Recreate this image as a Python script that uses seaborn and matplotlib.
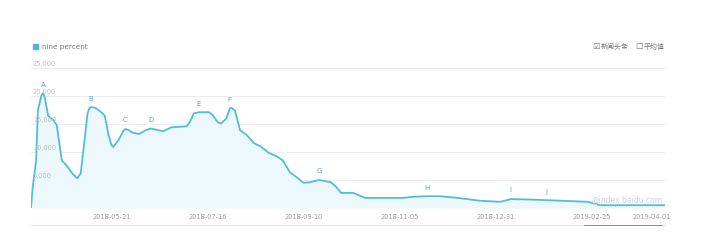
import matplotlib
matplotlib.use("Agg")
import matplotlib.pyplot as plt
import matplotlib.dates as mdates
from matplotlib.lines import Line2D
import seaborn as sns
import pandas as pd

# ---- data ----
dates = ["2018-04-04", "2018-04-05", "2018-04-07", "2018-04-08", "2018-04-10", "2018-04-11",
         "2018-04-12", "2018-04-14", "2018-04-17", "2018-04-19", "2018-04-20", "2018-04-22",
         "2018-04-25", "2018-04-28", "2018-05-01", "2018-05-03", "2018-05-05", "2018-05-07",
         "2018-05-08", "2018-05-09", "2018-05-10", "2018-05-12", "2018-05-15", "2018-05-17",
         "2018-05-18", "2018-05-19", "2018-05-21", "2018-05-22", "2018-05-25", "2018-05-28",
         "2018-05-29", "2018-05-31", "2018-06-02", "2018-06-06", "2018-06-10", "2018-06-13",
         "2018-06-20", "2018-06-25", "2018-07-04", "2018-07-06", "2018-07-08", "2018-07-11",
         "2018-07-17", "2018-07-19", "2018-07-22", "2018-07-24", "2018-07-27", "2018-07-29",
         "2018-07-30", "2018-08-01", "2018-08-04", "2018-08-08", "2018-08-12", "2018-08-16",
         "2018-08-21", "2018-08-25", "2018-08-29", "2018-09-02", "2018-09-06", "2018-09-10",
         "2018-09-14", "2018-09-19", "2018-09-26", "2018-09-29", "2018-10-02", "2018-10-09",
         "2018-10-16", "2018-11-07", "2018-11-13", "2018-11-21", "2018-11-29", "2018-12-09",
         "2018-12-22", "2019-01-03", "2019-01-09", "2019-01-21", "2019-01-30", "2019-02-23",
         "2019-03-02", "2019-04-09"]
values = [0, 3800, 8500, 17400, 20000, 20500,
          19800, 16500, 15700, 14800, 12700, 8500,
          7500, 6200, 5300, 6200, 11500, 16900,
          17800, 18000, 18000, 17800, 17100, 16500,
          15100, 13300, 11200, 10900, 12100, 13800,
          14100, 13900, 13500, 13200, 13900, 14200,
          13700, 14400, 14600, 15500, 16900, 17100,
          17100, 16600, 15300, 15100, 16000, 17800,
          17900, 17400, 13900, 13000, 11600, 11000,
          9800, 9300, 8500, 6400, 5500, 4500,
          4600, 5000, 4600, 3800, 2700, 2700,
          1800, 1800, 2000, 2100, 2100, 1800,
          1300, 1100, 1600, 1500, 1400, 1100,
          500, 500]

marker_letters = ["A", "B", "C", "D", "E", "F", "G", "H", "I", "J"]
marker_dates = ["2018-04-11", "2018-05-09", "2018-05-29", "2018-06-13", "2018-07-11",
                "2018-07-29", "2018-09-19", "2018-11-21", "2019-01-09", "2019-01-30"]

xtick_labels = ["2018-05-21", "2018-07-16", "2018-09-10", "2018-11-05",
                "2018-12-31", "2019-02-25", "2019-04-01"]
ytick_values = [5000, 10000, 15000, 20000, 25000]

series_name = "nine percent"
# ------------------------------------

df = pd.DataFrame({"date": pd.to_datetime(dates), "value": values})

sns.set_theme(style="white")
plt.rcParams["font.family"] = ["DejaVu Sans", "Noto Sans CJK SC"]

W, H = 707, 241
fig = plt.figure(figsize=(W / 100, H / 100), dpi=100)
left, right, top, bottom = 31, 665, 68, 208
ax = fig.add_axes([left / W, 1 - bottom / H, (right - left) / W, (bottom - top) / H])

line_color = "#55bcd5"
ax.fill_between(df["date"], df["value"], 0, color="#ecf8fb", lw=0, zorder=1)
sns.lineplot(data=df, x="date", y="value", ax=ax, color=line_color, lw=1.3, zorder=3,
             solid_joinstyle="round", solid_capstyle="round")

ax.set_xlim(df["date"].iloc[0], df["date"].iloc[-1])
ax.set_ylim(0, 25000)

# grid lines
for v in [0] + ytick_values:
    ax.axhline(v, color="#ececec", lw=0.7, zorder=0)
ax.set_yticks([])
for v in ytick_values:
    ax.text(0.003, v + 200, f"{v:,}", transform=ax.get_yaxis_transform(),
            fontsize=4.8, color="#bdbdbd", ha="left", va="bottom", zorder=4)

ax.set_xticks(pd.to_datetime(xtick_labels))
ax.xaxis.set_major_formatter(mdates.DateFormatter("%Y-%m-%d"))
ax.tick_params(axis="x", length=0, labelsize=4.8, labelcolor="#9a9a9a", pad=4)
ax.set_xlabel("")
ax.set_ylabel("")
for s in ax.spines.values():
    s.set_visible(False)

# letter markers
lookup = dict(zip(df["date"], df["value"]))
for letter, d in zip(marker_letters, marker_dates):
    dt = pd.Timestamp(d)
    ax.annotate(letter, (dt, lookup[dt]), xytext=(0, 4), textcoords="offset points",
                ha="center", va="bottom", fontsize=5, color="#5aa6d6", zorder=5)

# legend (top-left)
fig.patches.append(plt.Rectangle((33 / W, 1 - 49 / H), 5 / W, 5 / H,
                                 transform=fig.transFigure, color="#4fb4da"))
fig.text(42 / W, 1 - 46.5 / H, series_name, fontsize=5.2, color="#777777", va="center")

# check boxes (top-right)
fig.text(592 / W, 1 - 46.5 / H, "☑", fontsize=6, color="#777777", va="center")
fig.text(601 / W, 1 - 46.5 / H, "新闻头条", fontsize=5, color="#777777", va="center")
fig.text(635 / W, 1 - 46.5 / H, "☐", fontsize=6, color="#777777", va="center")
fig.text(644 / W, 1 - 46.5 / H, "平均值", fontsize=5, color="#777777", va="center")

# watermark
fig.text(663 / W, 1 - 200 / H, "@index.baidu.com", fontsize=5.5, color="#c5d3dc",
         ha="right", va="center")

# slider line at bottom
fig.add_artist(Line2D([left / W, right / W], [1 - 225 / H] * 2, color="#e2e2e2", lw=0.7))
fig.add_artist(Line2D([584 / W, 662 / W], [1 - 225 / H] * 2, color="#8a8a8a", lw=0.7))

fig.savefig("out.png", dpi=100, facecolor="white")
